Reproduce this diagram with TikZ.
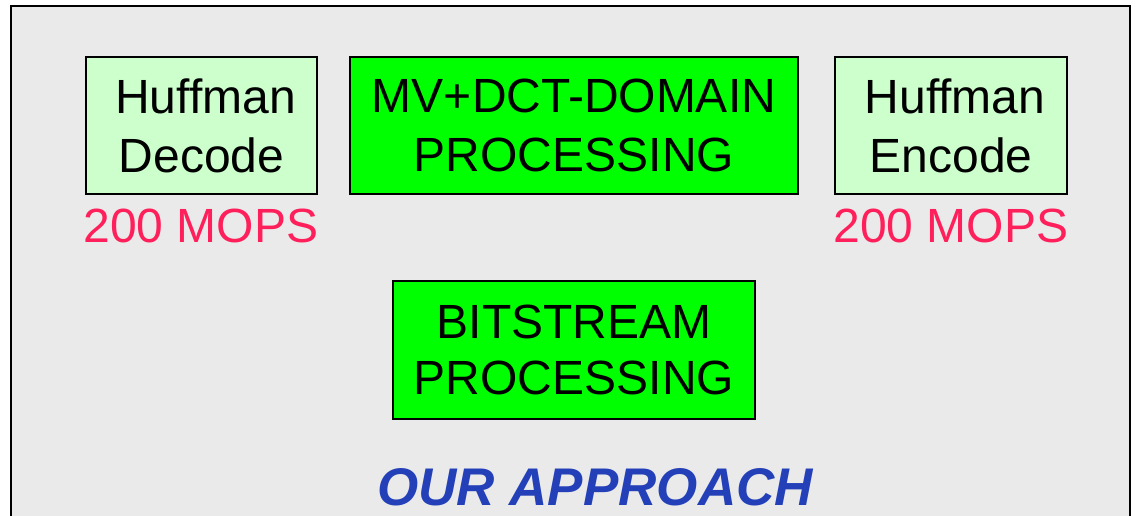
\documentclass[tikz,border=0pt]{standalone}
\usepackage{fontspec}
\setmainfont{Liberation Sans}
\definecolor{panelgray}{HTML}{EAEAEA}
\definecolor{palegreen}{HTML}{CCFFCC}
\definecolor{brightgreen}{HTML}{00FF00}
\definecolor{mopsred}{HTML}{FF1F5A}
\definecolor{titleblue}{HTML}{2440B8}
\tikzset{
  px/.style={x=1pt,y=-1pt},
  blockbox/.style={draw=black, line width=1.4pt, inner sep=0pt, align=center,
    font=\fontsize{48}{59}\selectfont},
  lightblock/.style={blockbox, fill=palegreen},
  darkblock/.style={blockbox, fill=brightgreen},
  ratelabel/.style={anchor=base, text=mopsred, inner sep=0pt,
    font=\fontsize{48}{56}\selectfont},
}
\begin{document}
\begin{tikzpicture}[px]
  \useasboundingbox (0,0) rectangle (1136,516);
  \begin{scope}
    \clip (0,0) rectangle (1136,516);
    \draw[fill=panelgray, line width=2.2pt] (11,6) rectangle (1130,540);
  \end{scope}

  % upper row of processing blocks
  \node[lightblock, minimum width=231pt, minimum height=137pt] (hdec) at (201.5,125.5) {\hspace*{8pt}Huffman\\Decode};
  \node[darkblock, minimum width=448pt, minimum height=137pt] (mvdct) at (574,125.5) {MV+DCT-DOMAIN\\PROCESSING};
  \node[lightblock, minimum width=232pt, minimum height=137pt] (henc) at (951,125.5) {\hspace*{8pt}Huffman\\Encode};

  % throughput labels
  \node[ratelabel] (rdec) at (201,242) {200 MOPS};
  \node[ratelabel] (renc) at (951,242) {200 MOPS};

  % lower block
  \node[darkblock, minimum width=362pt, minimum height=138pt, font=\fontsize{48}{56}\selectfont] (bits) at (574,350) {BITSTREAM\\PROCESSING};

  % caption
  \node[anchor=base, inner sep=0pt, text=titleblue,
    font=\fontsize{53}{60}\selectfont\bfseries\itshape] (title) at (595,505) {OUR APPROACH};
\end{tikzpicture}
\end{document}
